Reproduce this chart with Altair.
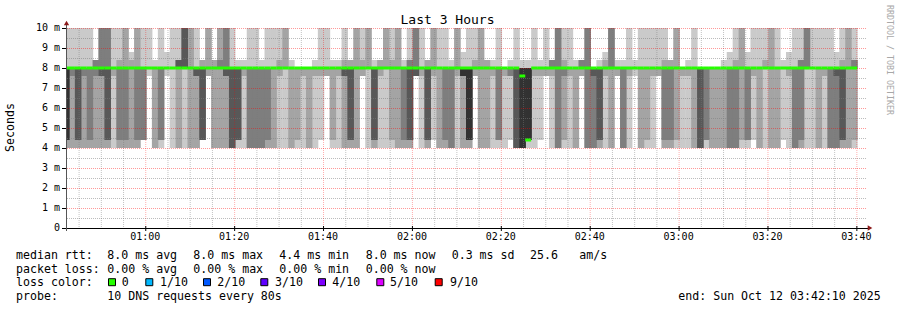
import altair as alt
import pandas as pd

# ---------------- data (SmokePing, 10 DNS pings every 80 s) ----------------
levels_ms = [4.0, 4.4, 7.6, 8.0, 8.4, 8.8, 10.6]   # distinct RTT values seen

# per 80 s step: how many of the 10 pings were at/below or above a level
n_le_4_0 = [2,2,2,2,2,2,2,2,1,2, 2,2,2,0,0,2,1,0,1,2, 1,2,2,0,0,2,2,2,4,1,
            1,3,3,3,2,2,1,1,2,1, 1,2,1,0,0,1,1,2,2,2, 0,1,2,1,1,1,2,2,2,0,
            1,2,0,2,2,3,1,2,2,0, 2,2,1,1,1,0,4,5,1,1, 0,0,1,3,1,1,2,0,3,3,
            2,1,2,0,3,1,0,2,1,1, 0,2,2,1,1,1,2,4,1,2, 2,2,3,3,1,1,0,2,1,2,
            2,0,1,3,2,1,1,2,1,3, 3,2,2,1]
n_le_4_4 = [5,2,4,2,3,2,2,4,1,3, 3,2,3,3,0,2,3,0,1,2, 1,2,2,4,0,2,2,2,4,4,
            1,3,3,3,3,2,1,1,2,2, 1,2,1,1,0,2,1,2,4,2, 0,1,4,1,1,2,2,3,4,0,
            1,4,1,2,3,3,1,2,5,0, 2,2,1,3,1,1,4,5,5,1, 1,0,1,3,2,1,2,0,3,3,
            4,1,2,0,3,1,0,2,2,1, 0,3,3,2,1,1,2,4,3,2, 2,2,3,3,2,3,1,2,1,2,
            2,1,1,3,3,1,1,2,1,3, 3,4,2,2]
n_le_7_6 = [5,3,4,3,3,3,4,4,2,3, 3,2,3,3,1,2,3,1,1,2, 1,2,4,4,2,2,2,4,4,4,
            2,3,3,3,3,2,2,1,2,2, 2,2,2,2,2,2,2,4,4,2, 2,1,4,2,1,2,2,3,4,4,
            2,4,2,2,3,3,2,5,5,2, 2,2,2,3,2,3,4,5,5,2, 2,2,2,3,3,2,2,2,3,4,
            4,2,2,2,3,2,1,2,2,2, 2,3,3,2,2,2,2,4,3,2, 2,2,3,3,2,3,2,2,1,2,
            2,1,2,3,3,1,1,2,2,3, 4,4,2,2]
n_gt_8_0 = [1,1,1,1,1,3,3,3,1,2, 2,2,2,1,1,1,1,1,1,4, 4,2,1,2,2,2,3,3,1,1,
            1,1,1,1,1,1,2,2,1,0, 0,0,1,1,1,1,1,2,2,2, 2,2,1,2,2,2,2,1,3,3,
            1,2,2,1,1,1,2,1,1,2, 2,2,1,1,0,1,1,1,1,1, 1,1,3,3,2,1,1,3,3,0,
            1,2,3,1,1,1,1,1,1,1, 1,2,2,2,0,1,1,0,0,0, 0,1,1,2,2,1,1,1,2,2,
            1,1,1,1,3,3,1,1,1,1, 1,2,2,3]
n_gt_8_4 = [1,1,1,1,1,0,3,3,1,1, 2,1,2,1,1,0,1,1,1,1, 4,2,1,0,2,0,2,3,1,0,
            0,1,1,0,1,1,1,2,0,0, 0,0,0,1,1,0,0,1,0,2, 1,2,0,0,2,1,2,0,1,3,
            1,0,2,1,1,0,2,1,1,1, 2,0,0,1,0,0,1,0,0,1, 0,1,0,3,1,1,0,0,3,0,
            0,1,3,0,0,1,0,1,1,1, 1,1,0,2,0,0,1,0,0,0, 0,0,1,1,2,1,1,1,1,2,
            1,0,1,1,1,3,1,1,1,1, 1,1,2,1]
n_gt_8_8 = [1,1,1,1,1,0,3,3,1,1, 2,0,2,1,1,0,1,0,1,1, 4,2,1,0,2,0,2,3,1,0,
            0,1,1,0,1,1,1,2,0,0, 0,0,0,1,1,0,0,1,0,2, 1,2,0,0,2,1,2,0,1,3,
            1,0,2,1,1,0,2,0,1,1, 2,0,0,1,0,0,1,0,0,1, 0,1,0,3,1,1,0,0,3,0,
            0,0,3,0,0,1,0,1,1,1, 1,1,0,2,0,0,1,0,0,0, 0,0,0,1,2,0,1,1,1,2,
            1,0,0,1,1,3,1,1,1,1, 0,1,2,1]
median_ms = [8.0] * 77 + [7.6, 4.4] + [8.0] * 55
loss_count = [0] * 134

pings_per_step = 10
step_seconds = 80
first_step_end = "00:42:50"
graph_start = "00:42:10"
graph_end = "03:42:10"

x_tick_labels = ["01:00", "01:20", "01:40", "02:00", "02:20", "02:40", "03:00", "03:20", "03:40"]
y_tick_values = [0, 1, 2, 3, 4, 5, 6, 7, 8, 9, 10]
y_tick_labels = ["0", "1 m", "2 m", "3 m", "4 m", "5 m", "6 m", "7 m", "8 m", "9 m", "10 m"]
loss_labels = ["0", "1/10", "2/10", "3/10", "4/10", "5/10", "9/10"]
loss_colors = ["#26ff00", "#00b8ff", "#0059ff", "#5e00ff", "#7e00ff", "#dd00ff", "#ff0000"]
smoke_greys = ["#cacaca", "#a4a4a4", "#7e7e7e", "#585858", "#323232"]

stats_line1 = ["median rtt:", "8.0 ms avg", "8.0 ms max", "4.4 ms min", "8.0 ms now",
               "0.3 ms sd", "25.6", "am/s"]
stats_line2 = ["packet loss:", "0.00 % avg", "0.00 % max", "0.00 % min", "0.00 % now"]
probe_line = ["probe:", "10 DNS requests every 80s", "end: Sun Oct 12 03:42:10 2025"]

# ---------------- layout (pixels) ----------------
MONO = "DejaVu Sans Mono"
PL, PT = 66, 28                       # plot origin in the page
W, H = 800, 200
line1_x = [16, 107.3, 193.3, 279.3, 365.7, 451.7, 530, 579.3]
line2_x = [16, 107.3, 193.3, 279.3, 365.7]
line3_label_x = [121.7, 160, 217.3, 275, 332.3, 390, 450]
line3_box_x = [112, 149.3, 207, 264.3, 322, 380.3, 438.7]
line4_x = [16, 107.3, 678.3]
base_y = [259, 272.5, 286, 299.5]


def to_min(s):
    h, m, sec = (int(v) for v in s.split(":"))
    return h * 60 + m + sec / 60.0


x0, x1 = to_min(graph_start), to_min(graph_end)
end0 = to_min(first_step_end)
step_min = step_seconds / 60.0

smoke_rows, med_rows = [], []
for k in range(len(median_ms)):
    t_end = end0 + k * step_min
    t_start = t_end - step_min
    cum = [n_le_4_0[k], n_le_4_4[k], n_le_7_6[k],
           pings_per_step - n_gt_8_0[k], pings_per_step - n_gt_8_4[k],
           pings_per_step - n_gt_8_8[k], pings_per_step]
    pings = []
    for r in range(pings_per_step):
        j = next(i for i in range(len(levels_ms)) if cum[i] > r)
        pings.append(levels_ms[j])
    pings.sort()
    for b in range(pings_per_step // 2):
        lo, hi = pings[b], pings[pings_per_step - 1 - b]
        if hi > lo:
            smoke_rows.append({"t0": t_start, "t1": t_end, "lo": lo, "hi": hi, "band": b})
    med_rows.append({"t0": t_start, "t1": t_end, "med": median_ms[k],
                     "col": loss_colors[min(loss_count[k], len(loss_colors) - 1)]})

smoke_df = pd.DataFrame(smoke_rows).sort_values("band", kind="stable")
med_df = pd.DataFrame(med_rows)

x_ticks = [to_min(t + ":00") for t in x_tick_labels]
x_minor = [m for m in range(45, int(x1) + 1, 5) if m % 20 != 0]
y_major = [v for v in y_tick_values if v > 0]
y_minor = [v + 0.5 for v in y_tick_values[:-1]]

xscale = alt.Scale(domain=[x0, x1], nice=False, zero=False)
yscale = alt.Scale(domain=[0, 10], nice=False, zero=True)
XN = dict(scale=xscale, axis=None)
YN = dict(scale=yscale, axis=None)

smoke = alt.Chart(smoke_df).mark_rect(clip=True, x2Offset=0.5).encode(
    x=alt.X("t0:Q", **XN), x2="t1:Q",
    y=alt.Y("lo:Q", **YN), y2="hi:Q",
    color=alt.Color("band:O", scale=alt.Scale(domain=[0, 1, 2, 3, 4], range=smoke_greys),
                    legend=None),
)

minor_col, major_col = "#7a7a7a", "#ff0000"
gy_minor = alt.Chart(pd.DataFrame({"gy": y_minor})).mark_rule(
    color=minor_col, strokeOpacity=0.5, strokeDash=[1, 1], yOffset=0.5).encode(
    y=alt.Y("gy:Q", **YN))
gx_minor = alt.Chart(pd.DataFrame({"gx": x_minor})).mark_rule(
    color=minor_col, strokeOpacity=0.45, strokeDash=[1, 1], xOffset=0.5).encode(
    x=alt.X("gx:Q", **XN))
gy_major = alt.Chart(pd.DataFrame({"gy": y_major})).mark_rule(
    color=major_col, strokeOpacity=0.4, strokeDash=[1, 1], yOffset=0.5).encode(
    y=alt.Y("gy:Q", **YN))
gx_major = alt.Chart(pd.DataFrame({"gx": x_ticks})).mark_rule(
    color=major_col, strokeOpacity=0.32, strokeDash=[1, 1], xOffset=0.5).encode(
    x=alt.X("gx:Q", **XN))

median = alt.Chart(med_df).mark_rule(strokeWidth=3, clip=True, color=loss_colors[0]).encode(
    x=alt.X("t0:Q", **XN), x2="t1:Q",
    y=alt.Y("med:Q", **YN),
)

# ---- hand-built axes (domain lines, ticks, labels) ----
axis_col = "#000000"
x_domain = alt.Chart(pd.DataFrame({"ax": [x0], "ax2": [x1], "ay": [0]})).mark_rule(
    color=axis_col, strokeWidth=1, xOffset=-4, x2Offset=2, yOffset=0.5).encode(
    x=alt.X("ax:Q", **XN), x2="ax2:Q", y=alt.Y("ay:Q", **YN))
y_domain = alt.Chart(pd.DataFrame({"ax": [x0], "ay": [0], "ay2": [10]})).mark_rule(
    color="#555555", strokeWidth=1, xOffset=0.5, yOffset=3, y2Offset=-4).encode(
    x=alt.X("ax:Q", **XN), y=alt.Y("ay:Q", **YN), y2="ay2:Q")
ydf = pd.DataFrame({"v": y_tick_values, "lab": y_tick_labels})
y_ticks = alt.Chart(ydf).mark_rule(color=axis_col, strokeWidth=1, yOffset=0.5).encode(
    x=alt.value(-4), x2=alt.value(0), y=alt.Y("v:Q", **YN))
y_labels = alt.Chart(ydf).mark_text(
    font=MONO, fontSize=10, align="right", baseline="middle", color=axis_col).encode(
    x=alt.value(-6), y=alt.Y("v:Q", **YN), text="lab:N")
xdf = pd.DataFrame({"v": x_ticks, "lab": x_tick_labels})
x_ticks_m = alt.Chart(xdf).mark_rule(color=axis_col, strokeWidth=1, xOffset=0.5).encode(
    x=alt.X("v:Q", **XN), y=alt.value(H - 2), y2=alt.value(H + 3))
x_labels = alt.Chart(xdf).mark_text(
    font=MONO, fontSize=10, align="center", baseline="middle", color=axis_col).encode(
    x=alt.X("v:Q", **XN), y=alt.value(H + 9), text="lab:N")

arrow_col = "#8c1a1a"
arrow_x = alt.Chart(pd.DataFrame({"ax": [x1], "ay": [0]})).mark_point(
    shape="triangle-right", filled=True, size=28, color=arrow_col, opacity=1, xOffset=4).encode(
    x=alt.X("ax:Q", **XN), y=alt.Y("ay:Q", **YN))
arrow_y = alt.Chart(pd.DataFrame({"ax": [x0], "ay": [10]})).mark_point(
    shape="triangle-up", filled=True, size=28, color=arrow_col, opacity=1, yOffset=-5,
    xOffset=0.5).encode(
    x=alt.X("ax:Q", **XN), y=alt.Y("ay:Q", **YN))


def text_layer(text, px, py, size=11.6, align="left", baseline="alphabetic",
               angle=0, color="#000000"):
    return alt.Chart(pd.DataFrame({"t": [text]})).mark_text(
        font=MONO, fontSize=size, color=color, align=align, baseline=baseline,
        angle=angle).encode(text="t:N", x=alt.value(px - PL), y=alt.value(py - PT))


def box_layer(fill, px, py):
    return alt.Chart(pd.DataFrame({"f": [fill]})).mark_rect(
        fill=fill, stroke="#000000", strokeWidth=1).encode(
        x=alt.value(px - PL - 3.5), x2=alt.value(px - PL + 3.5),
        y=alt.value(py - PT - 3.5), y2=alt.value(py - PT + 3.5))


texts = []
for t, px in zip(stats_line1, line1_x):
    texts.append(text_layer(t, px, base_y[0]))
for t, px in zip(stats_line2, line2_x):
    texts.append(text_layer(t, px, base_y[1]))
texts.append(text_layer("loss color:", 16, base_y[2]))
for t, px in zip(loss_labels, line3_label_x):
    texts.append(text_layer(t, px, base_y[2]))
for c, px in zip(loss_colors, line3_box_x):
    texts.append(box_layer(c, px, 282.2))
for t, px in zip(probe_line, line4_x):
    texts.append(text_layer(t, px, base_y[3]))
texts.append(text_layer("Last 3 Hours", 447.5, 24, size=13, align="center"))
texts.append(text_layer("Seconds", 11, 127.5, align="center", baseline="middle", angle=270))
texts.append(text_layer("RRDTOOL / TOBI OETIKER", 888.5, 60, size=8.3, align="center",
                        baseline="middle", angle=90, color="#a8a8a8"))

chart = alt.layer(
    smoke, gy_minor, gx_minor, gy_major, gx_major, median,
    x_domain, y_domain, y_ticks, y_labels, x_ticks_m, x_labels, arrow_x, arrow_y,
    *texts,
).properties(
    width=W, height=H,
    autosize=alt.AutoSizeParams(type="none"),
    padding={"left": PL, "top": PT, "right": 31, "bottom": 82},
    background="#ffffff",
).configure_view(stroke=None)

chart.save("out.html", embed_options={"renderer": "svg", "actions": False})
